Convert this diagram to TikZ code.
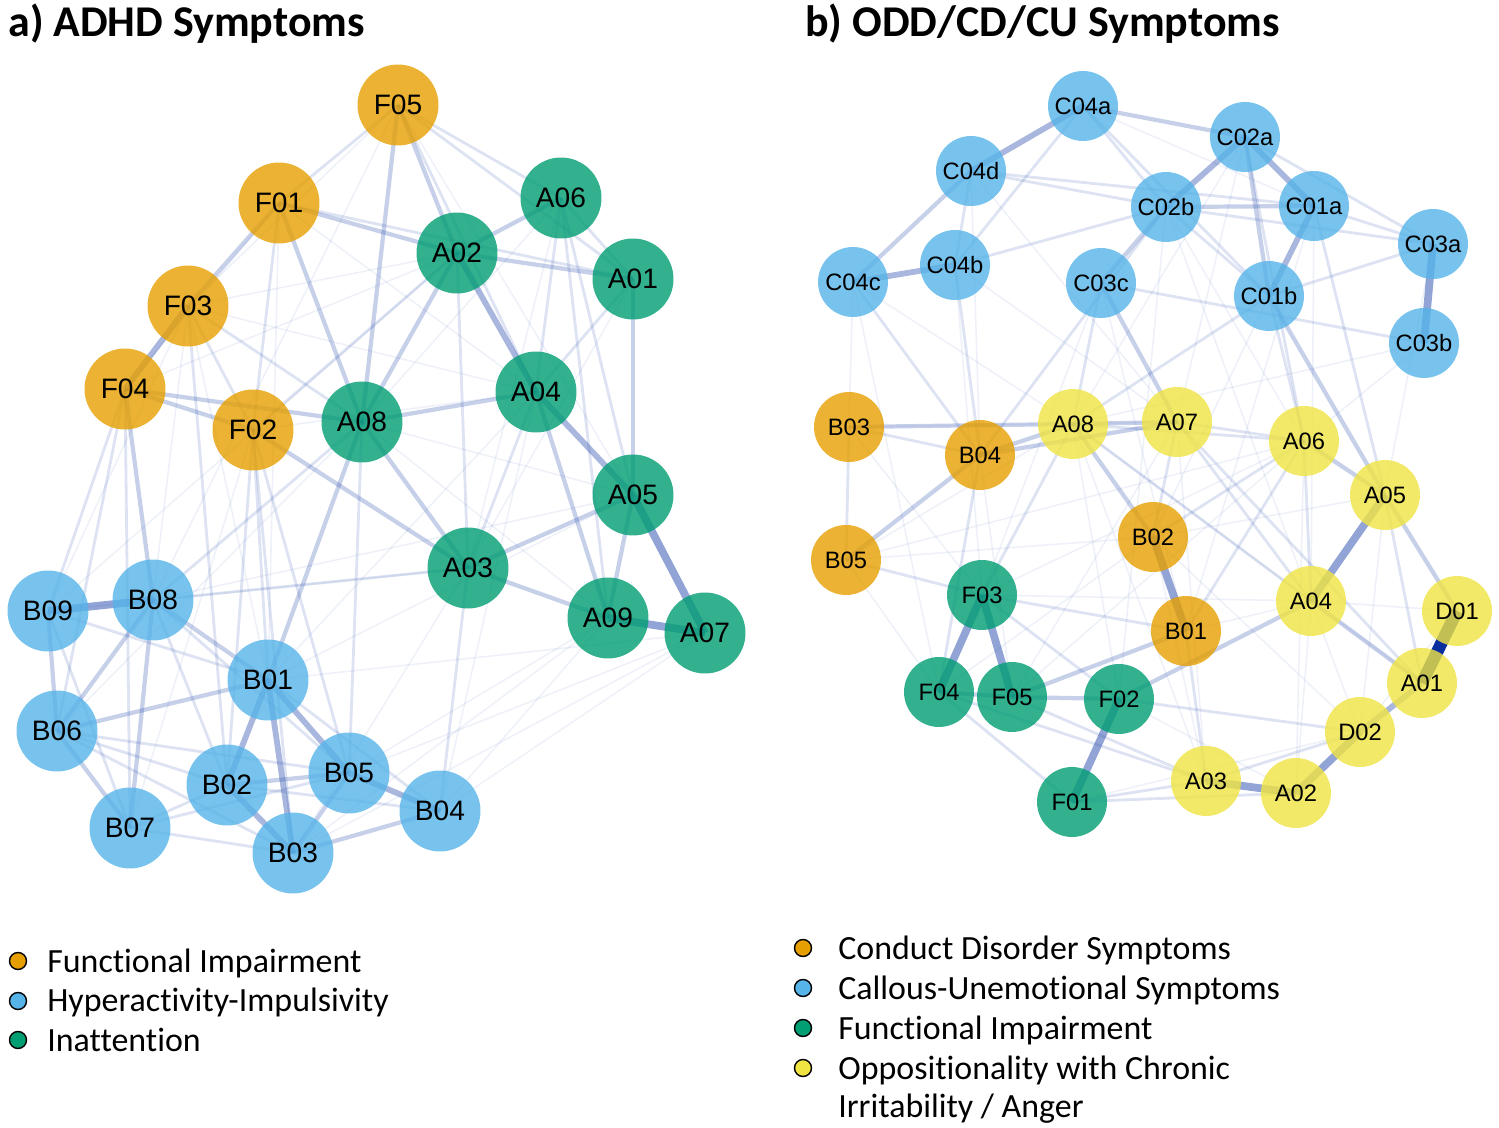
\documentclass[tikz,border=0pt]{standalone}
\usepackage{fontspec}
\setmainfont{Carlito}[Ligatures=NoCommon]
\newfontfamily\lblfont{Liberation Sans}
\usetikzlibrary{backgrounds}
\definecolor{okOrange}{HTML}{E69F00}
\definecolor{okBlue}{HTML}{56B4E9}
\definecolor{okGreen}{HTML}{009E73}
\definecolor{okYellow}{HTML}{F0E442}
\definecolor{edgeBlue}{RGB}{45,80,175}
\definecolor{edgeDark}{HTML}{0A2E9E}
\tikzset{
  symA/.style={circle, minimum size=1.62cm, inner sep=0pt, fill opacity=0.8, text opacity=1, font=\lblfont\fontsize{16}{16}\selectfont},
  symB/.style={circle, minimum size=1.4cm, inner sep=0pt, fill opacity=0.8, text opacity=1, font=\lblfont\fontsize{13.5}{13.5}\selectfont},
  cO/.style={fill=okOrange}, cB/.style={fill=okBlue}, cG/.style={fill=okGreen}, cY/.style={fill=okYellow},
  eFaint/.style={draw=edgeBlue, draw opacity=0.08, line width=0.9pt},
  eLight/.style={draw=edgeBlue, draw opacity=0.16, line width=1.6pt},
  eMed/.style={draw=edgeBlue, draw opacity=0.27, line width=2.4pt},
  eStrong/.style={draw=edgeBlue, draw opacity=0.41, line width=3.3pt},
  eVery/.style={draw=edgeBlue, draw opacity=0.52, line width=4.4pt},
  eDark/.style={draw=edgeDark, line width=7pt},
  ttl/.style={anchor=base west, font=\bfseries\fontsize{25}{25}\selectfont, inner sep=0pt},
  legdot/.style={circle, draw=black, line width=0.8pt, minimum size=0.34cm, inner sep=0pt},
  legtxt/.style={anchor=base west, font=\fontsize{19.3}{19.3}\selectfont, inner sep=0pt}
}
\begin{document}
\begin{tikzpicture}[x=0.02cm, y=-0.02cm]
\useasboundingbox (0,0) rectangle (1499,1128);
% titles
\node[ttl] (t1) at (8,37) {a) ADHD Symptoms};
\node[ttl] (t2) at (805,37) {b) ODD/CD/CU Symptoms};
% ---------- left network nodes ----------
\node[symA,cO] (aF05) at (398,105) {F05};
\node[symA,cO] (aF01) at (279,203) {F01};
\node[symA,cO] (aF03) at (188,306) {F03};
\node[symA,cO] (aF04) at (125,389) {F04};
\node[symA,cO] (aF02) at (253,430) {F02};
\node[symA,cG] (aA08) at (362,422) {A08};
\node[symA,cG] (aA06) at (561,198) {A06};
\node[symA,cG] (aA02) at (457,253) {A02};
\node[symA,cG] (aA01) at (633,279) {A01};
\node[symA,cG] (aA04) at (536,392) {A04};
\node[symA,cG] (aA05) at (633,495) {A05};
\node[symA,cG] (aA03) at (468,568) {A03};
\node[symA,cG] (aA09) at (608,618) {A09};
\node[symA,cG] (aA07) at (705,633) {A07};
\node[symA,cB] (aB09) at (48,611) {B09};
\node[symA,cB] (aB08) at (153,600) {B08};
\node[symA,cB] (aB06) at (57,731) {B06};
\node[symA,cB] (aB01) at (268,680) {B01};
\node[symA,cB] (aB02) at (227,785) {B02};
\node[symA,cB] (aB05) at (349,773) {B05};
\node[symA,cB] (aB04) at (440,811) {B04};
\node[symA,cB] (aB07) at (130,828) {B07};
\node[symA,cB] (aB03) at (293,853) {B03};
% ---------- right network nodes ----------
\node[symB,cB] (bC04a) at (1083,106) {C04a};
\node[symB,cB] (bC02a) at (1245,137) {C02a};
\node[symB,cB] (bC04d) at (971,171) {C04d};
\node[symB,cB] (bC02b) at (1166,207) {C02b};
\node[symB,cB] (bC01a) at (1314,206) {C01a};
\node[symB,cB] (bC03a) at (1433,244) {C03a};
\node[symB,cB] (bC04b) at (955,265) {C04b};
\node[symB,cB] (bC04c) at (853,282) {C04c};
\node[symB,cB] (bC03c) at (1101,283) {C03c};
\node[symB,cB] (bC01b) at (1269,296) {C01b};
\node[symB,cB] (bC03b) at (1424,343) {C03b};
\node[symB,cO] (bB03) at (849,427) {B03};
\node[symB,cO] (bB04) at (980,455) {B04};
\node[symB,cO] (bB02) at (1153,537) {B02};
\node[symB,cO] (bB05) at (846,560) {B05};
\node[symB,cO] (bB01) at (1186,631) {B01};
\node[symB,cY] (bA08) at (1073,424) {A08};
\node[symB,cY] (bA07) at (1177,422) {A07};
\node[symB,cY] (bA06) at (1304,441) {A06};
\node[symB,cY] (bA05) at (1385,495) {A05};
\node[symB,cY] (bA04) at (1311,601) {A04};
\node[symB,cY] (bD01) at (1457,611) {D01};
\node[symB,cY] (bA01) at (1422,683) {A01};
\node[symB,cY] (bD02) at (1360,732) {D02};
\node[symB,cY] (bA03) at (1206,781) {A03};
\node[symB,cY] (bA02) at (1296,793) {A02};
\node[symB,cG] (bF03) at (982,595) {F03};
\node[symB,cG] (bF04) at (939,692) {F04};
\node[symB,cG] (bF05) at (1012,697) {F05};
\node[symB,cG] (bF02) at (1119,699) {F02};
\node[symB,cG] (bF01) at (1072,802) {F01};
% ---------- edges ----------
\begin{scope}[on background layer]
% left faint
\foreach \p/\q in {aA07/aB04, aA07/aB01, aA09/aB05, aA05/aB08, aA09/aB03, aF03/aB01, aF01/aB01, aA01/aA03, aA06/aA03, aA08/aA09, aA08/aA05, aF03/aA02, aF04/aA02, aB09/aA03, aB06/aA08, aF01/aA04, aF02/aA04, aF03/aB09, aF05/aA05, aA07/aB05, aA04/aB04, aA02/aB09, aF03/aB08, aF02/aB07, aA03/aB03, aA05/aB01, aF04/aF01, aF03/aA04, aA06/aA08, aA07/aB03, aA09/aB04, aA04/aB01, aF05/aF03, aF05/aB08}
  \draw[eFaint] (\p.center) -- (\q.center);
% left light
\foreach \p/\q in {aF05/aF01, aF05/aA06, aF05/aA04, aF05/aA01, aF01/aF02, aF03/aF02, aF01/aA01, aA06/aA04, aA06/aA09, aA06/aA05, aA06/aA01, aB08/aA03, aB04/aA03, aB07/aB02, aB07/aB03, aB07/aB05, aB07/aB09, aB06/aB02, aB06/aB05, aB09/aB01, aA08/aB08, aA02/aF02, aB06/aB03, aF04/aB09, aF04/aB06, aF04/aB07, aF02/aB01, aF02/aB05, aA01/aA04, aA04/aA03, aF03/aA08, aB08/aB02, aB08/aB05, aF03/aB02, aF02/aB02, aF02/aB03, aA08/aB05, aA02/aA03, aB01/aB04, aB02/aB04}
  \draw[eLight] (\p.center) -- (\q.center);
% left medium
\foreach \p/\q in {aF04/aB08, aA08/aA04, aA08/aB01, aA02/aA06, aA02/aA01, aF01/aA02, aF01/aF03, aF04/aF02, aB09/aB06, aB08/aB06, aB01/aB06, aA08/aA03, aA03/aA05, aA01/aA05, aB03/aB04, aB05/aB03, aB02/aB05, aB06/aB07, aF02/aA03, aA04/aA09, aA05/aA09, aA03/aA09, aB08/aB07, aA02/aA08, aF05/aA08, aF05/aA02, aF01/aA08, aB08/aB01, aF04/aA08}
  \draw[eMed] (\p.center) -- (\q.center);
% left strong
\foreach \p/\q in {aF03/aF04, aB01/aB03, aB02/aB03, aB05/aB04, aB01/aB05, aB01/aB02, aA02/aA04, aA04/aA05}
  \draw[eStrong] (\p.center) -- (\q.center);
% left very strong
\foreach \p/\q in {aB09/aB08, aA05/aA07, aA09/aA07}
  \draw[eVery] (\p.center) -- (\q.center);
% right faint
\foreach \p/\q in {bC04c/bB03, bC04c/bF04, bC04b/bA07, bC04d/bB04, bC03b/bA08, bC03b/bA06, bC01b/bB02, bC01a/bA04, bC02a/bA08, bC02b/bA04, bB05/bA08, bB05/bA06, bB03/bF03, bB05/bF04, bA08/bF02, bA07/bF05, bA06/bF05, bA06/bF03, bA05/bB02, bA04/bD01, bD01/bD02, bA05/bD02, bF02/bA02, bB02/bA03, bB02/bD02, bA07/bA03, bA08/bA01, bC03c/bF03, bC03c/bB01, bC04b/bF03, bC02b/bA06, bA06/bA02, bA04/bA02, bA04/bD02, bC03a/bA05, bC04a/bC01a, bB04/bF05, bF01/bD02, bB01/bA04, bC04c/bA08, bC04d/bA07, bC02a/bA07, bC01a/bB01, bB03/bA07, bB05/bB02, bF04/bB02, bF03/bA04, bA08/bA03, bC02b/bF02}
  \draw[eFaint] (\p.center) -- (\q.center);
% right light
\foreach \p/\q in {bC02b/bC01b, bC01b/bA08, bC03c/bC03b, bC01a/bC03a, bC02b/bC03a, bB03/bB04, bA07/bA06, bF04/bF01, bF02/bD02, bF01/bA03, bF01/bA02, bA07/bA04, bA06/bB01, bB05/bF03, bC04c/bB04, bC04b/bB04, bC04d/bC04b, bC04a/bC04b, bC04d/bC01a, bC04b/bC02b, bA03/bD02, bC04a/bC02b, bC04a/bC01b, bB03/bB05, bA08/bF03, bA08/bA06, bA07/bB02, bA06/bB02, bA06/bA04, bF05/bA03, bF04/bA03, bC01b/bA06, bC02a/bA06, bC03c/bA08, bC02b/bB04, bA08/bA04, bA07/bA01, bF03/bF02, bB04/bF04, bA05/bA01, bC01a/bA05, bB01/bA03, bF03/bB01, bC03a/bC01b, bC02a/bC03a, bC04d/bC02b}
  \draw[eLight] (\p.center) -- (\q.center);
% right medium
\foreach \p/\q in {bC04d/bC04c, bC04a/bC02a, bC02a/bC01b, bC02b/bC01a, bC02b/bC03c, bC03c/bA07, bC01b/bA05, bB03/bA08, bB04/bA08, bB04/bA07, bB04/bB05, bA08/bB02, bA06/bA05, bA05/bD01, bA04/bA01, bA04/bF02, bF04/bF05, bF05/bF02, bA08/bA07, bF05/bB01}
  \draw[eMed] (\p.center) -- (\q.center);
% right strong
\foreach \p/\q in {bA01/bD02, bC04a/bC04d, bC02a/bC02b, bC02a/bC01a, bC01a/bC01b, bC04c/bC04b}
  \draw[eStrong] (\p.center) -- (\q.center);
% right very strong
\foreach \p/\q in {bD02/bA02, bA03/bA02, bF03/bF04, bF03/bF05, bF02/bF01, bB02/bB01, bA05/bA04, bC03a/bC03b}
  \draw[eVery] (\p.center) -- (\q.center);
\draw[eDark] (bD01.center) -- (bA01.center);
\end{scope}
% ---------- legends ----------
\node[legdot, fill=okOrange] (la1) at (18,961) {};
\node[legdot, fill=okBlue] (la2) at (18,1001) {};
\node[legdot, fill=okGreen] (la3) at (18,1040) {};
\node[legtxt] (lta1) at (47,972) {Functional Impairment};
\node[legtxt] (lta2) at (47,1011) {Hyperactivity-Impulsivity};
\node[legtxt] (lta3) at (47,1051) {Inattention};
\node[legdot, fill=okOrange] (lb1) at (803,948) {};
\node[legdot, fill=okBlue] (lb2) at (803,988) {};
\node[legdot, fill=okGreen] (lb3) at (803,1028) {};
\node[legdot, fill=okYellow] (lb4) at (803,1068) {};
\node[legtxt] (ltb1) at (838,959) {Conduct Disorder Symptoms};
\node[legtxt] (ltb2) at (838,999) {Callous-Unemotional Symptoms};
\node[legtxt] (ltb3) at (838,1039) {Functional Impairment};
\node[legtxt] (ltb4) at (838,1079) {Oppositionality with Chronic};
\node[legtxt] (ltb5) at (838,1117) {Irritability / Anger};
\end{tikzpicture}
\end{document}
